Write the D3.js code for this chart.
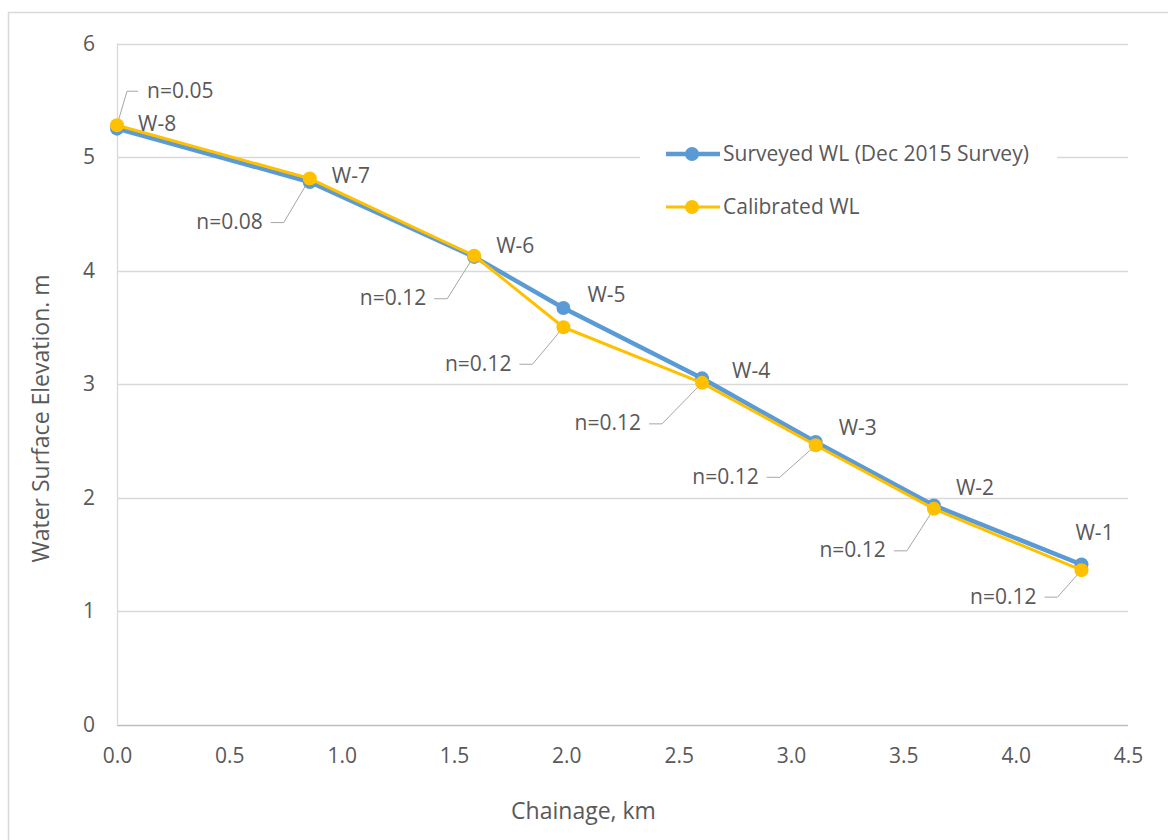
<!DOCTYPE html>
<html>
<head>
<meta charset="utf-8">
<script src="https://cdn.jsdelivr.net/npm/d3@7"></script>
<style>
  html, body { margin: 0; padding: 0; background: #fff; }
  svg { display: block; }
  text { font-family: "Open Sans", sans-serif; fill: #595959; }
</style>
</head>
<body>
<svg id="chart" width="1168" height="840"></svg>
<script>
// ---- data ----
const stations = ["W-8", "W-7", "W-6", "W-5", "W-4", "W-3", "W-2", "W-1"];
const chainage = [0, 0.858, 1.59, 1.987, 2.604, 3.11, 3.636, 4.293];
const surveyedWL = [5.25, 4.78, 4.12, 3.67, 3.05, 2.49, 1.93, 1.41];
const calibratedWL = [5.28, 4.81, 4.13, 3.50, 3.01, 2.46, 1.90, 1.36];
const manningN = ["n=0.05", "n=0.08", "n=0.12", "n=0.12", "n=0.12", "n=0.12", "n=0.12", "n=0.12"];
const xTicks = [0, 0.5, 1.0, 1.5, 2.0, 2.5, 3.0, 3.5, 4.0, 4.5];
const yTicks = [0, 1, 2, 3, 4, 5, 6];
const seriesNames = ["Surveyed WL (Dec 2015 Survey)", "Calibrated WL"];
const seriesColors = ["#5b9bd5", "#ffc000"];

// ---- label layout (pixel offsets) ----
const stationLabelOffset = [[21, -3], [22, -5], [22, -10], [24, -12], [30, -6], [23, -13], [22, -16], [-6, -30]];
const nLabelOffset = [[30, -33], [-47, 45], [-48, 44], [-52, 38], [-61, 42], [-57, 33], [-48, 43], [-45, 28]];

const svg = d3.select("#chart");
const FS = 21;
const TITLE_FS = 23;

// outer frame
svg.append("rect").attr("x", 8.5).attr("y", 12.5).attr("width", 1200).attr("height", 900)
  .attr("fill", "#fff").attr("stroke", "#d9d9d9").attr("stroke-width", 1.5);

const x = d3.scaleLinear().domain([0, 4.5]).range([117, 1128]);
const y = d3.scaleLinear().domain([0, 6]).range([724.5, 43.5]);

// gridlines
svg.append("g").selectAll("line").data(yTicks).join("line")
  .attr("x1", x(0)).attr("x2", x(4.5))
  .attr("y1", d => Math.round(y(d)) + 0.5).attr("y2", d => Math.round(y(d)) + 0.5)
  .attr("stroke", d => d === 0 ? "#bfbfbf" : "#d9d9d9").attr("stroke-width", 1.3);
svg.append("line").attr("x1", 117.5).attr("x2", 117.5).attr("y1", y(6)).attr("y2", y(0))
  .attr("stroke", "#d9d9d9").attr("stroke-width", 1.3);

// y axis labels
const yAxis = d3.axisLeft(y).tickValues(yTicks).tickFormat(d3.format("d")).tickSize(0).tickPadding(22);
const gy = svg.append("g").attr("transform", `translate(${x(0)},0)`).call(yAxis);
gy.select(".domain").remove();
gy.selectAll("text").attr("font-size", FS).style("font-family", null).attr("fill", "#595959");

// x axis labels
const xAxis = d3.axisBottom(x).tickValues(xTicks).tickFormat(d3.format(".1f")).tickSize(0).tickPadding(24);
const gx = svg.append("g").attr("transform", `translate(0,${y(0)})`).call(xAxis);
gx.select(".domain").remove();
gx.selectAll("text").attr("font-size", FS).style("font-family", null).attr("fill", "#595959");

// axis titles
svg.append("text").attr("x", 583.5).attr("y", 813).attr("text-anchor", "middle")
  .attr("dominant-baseline", "middle").attr("font-size", TITLE_FS).text("Chainage, km");
svg.append("text").attr("transform", "translate(43,418.5) rotate(-90)").attr("text-anchor", "middle")
  .attr("dominant-baseline", "middle").attr("font-size", TITLE_FS).text("Water Surface Elevation. m");

// legend background
svg.append("rect").attr("x", 640).attr("y", 128).attr("width", 417).attr("height", 104).attr("fill", "#fff");

// n-label leader lines
const calPts = chainage.map((c, i) => [x(c), y(calibratedWL[i])]);
const leaderG = svg.append("g");
calPts.forEach((p, i) => {
  const [dx, dy] = nLabelOffset[i];
  const tx = p[0] + dx, ty = p[1] + dy;
  const pts = i === 0
    ? [[tx - 9, ty - 1], [tx - 20, ty - 1], p]
    : [[tx + 8, ty - 1], [tx + 21, ty - 1], p];
  leaderG.append("path").attr("d", d3.line()(pts)).attr("fill", "none")
    .attr("stroke", "#a6a6a6").attr("stroke-width", 1);
});

// series
const series = [surveyedWL, calibratedWL];
const widths = [4.5, 3];
series.forEach((vals, s) => {
  const pts = chainage.map((c, i) => [x(c), y(vals[i])]);
  svg.append("path").attr("d", d3.line()(pts)).attr("fill", "none")
    .attr("stroke", seriesColors[s]).attr("stroke-width", widths[s]).attr("stroke-linejoin", "round");
  svg.append("g").selectAll("circle").data(pts).join("circle")
    .attr("cx", d => d[0]).attr("cy", d => d[1]).attr("r", 7).attr("fill", seriesColors[s]);
});

// station labels
chainage.forEach((c, i) => {
  const [dx, dy] = stationLabelOffset[i];
  svg.append("text").attr("x", x(c) + dx).attr("y", y(surveyedWL[i]) + dy)
    .attr("dominant-baseline", "middle").attr("font-size", FS).text(stations[i]);
});

// n labels
calPts.forEach((p, i) => {
  const [dx, dy] = nLabelOffset[i];
  svg.append("text").attr("x", p[0] + dx).attr("y", p[1] + dy)
    .attr("text-anchor", i === 0 ? "start" : "end")
    .attr("dominant-baseline", "middle").attr("font-size", FS).text(manningN[i]);
});

// legend
const legY = [154, 207];
seriesNames.forEach((name, s) => {
  svg.append("line").attr("x1", 666).attr("x2", 720).attr("y1", legY[s]).attr("y2", legY[s])
    .attr("stroke", seriesColors[s]).attr("stroke-width", widths[s]);
  svg.append("circle").attr("cx", 692).attr("cy", legY[s]).attr("r", 7).attr("fill", seriesColors[s]);
  svg.append("text").attr("x", 723).attr("y", legY[s] + 1).attr("dominant-baseline", "middle")
    .attr("font-size", FS).text(name);
});
</script>
</body>
</html>
